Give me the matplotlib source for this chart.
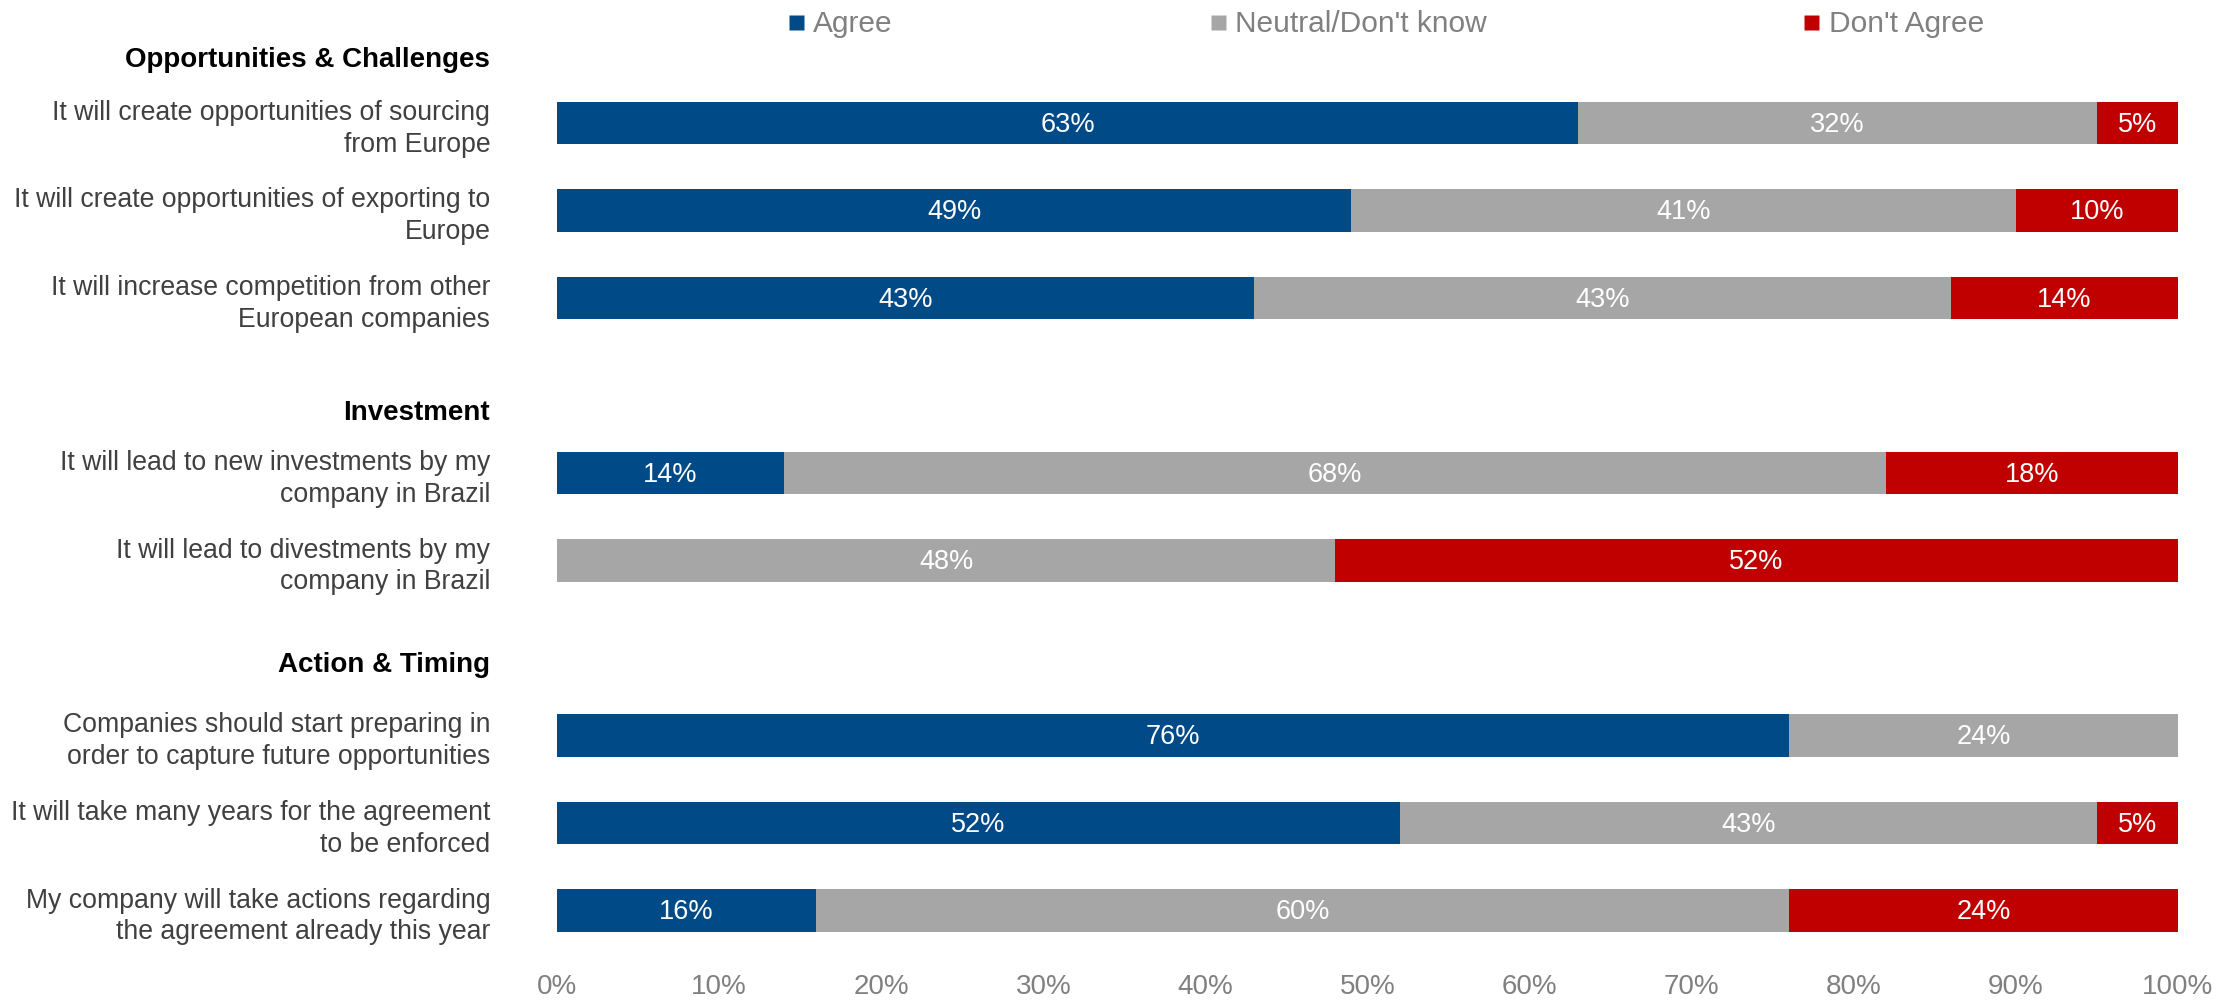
import matplotlib
matplotlib.use("Agg")
import matplotlib.pyplot as plt
from matplotlib.lines import Line2D
from matplotlib.ticker import FuncFormatter

plt.rcParams["font.family"] = ["Liberation Sans", "DejaVu Sans"]

# survey statements, grouped by theme
statements = [
    "It will create opportunities of sourcing\nfrom Europe",
    "It will create opportunities of exporting to\nEurope",
    "It will increase competition from other\nEuropean companies",
    "It will lead to new investments by my\ncompany in Brazil",
    "It will lead to divestments by my\ncompany in Brazil",
    "Companies should start preparing in\norder to capture future opportunities",
    "It will take many years for the agreement\nto be enforced",
    "My company will take actions regarding\nthe agreement already this year",
]
agree   = [63, 49, 43, 14, 0, 76, 52, 16]
neutral = [32, 41, 43, 68, 48, 24, 43, 60]
disagree = [5, 10, 14, 18, 52, 0, 5, 24]

groups = ["Opportunities & Challenges", "Investment", "Action & Timing"]
series_names = ["Agree", "Neutral/Don't know", "Don't Agree"]
series_colors = ["#004A87", "#A6A6A6", "#C00000"]

# row slots (one unit per bar, blank slots between groups)
row_pos = [0, 1, 2, 4, 5, 7, 8, 9]
group_pos = [-0.72, 3.31, 6.20]

fig = plt.figure(figsize=(22.35, 10.0), dpi=100)
ax = fig.add_axes([557 / 2235, 1 - 963 / 1000, 1621 / 2235, 945 / 1000])

bar_h = 0.49
left = [0] * len(row_pos)
for vals, color in zip([agree, neutral, disagree], series_colors):
    ax.barh(row_pos, vals, height=bar_h, left=left, color=color,
            edgecolor="none")
    for y, l, v in zip(row_pos, left, vals):
        if v > 0:
            ax.text(l + v / 2, y + 0.02, f"{v}%", ha="center", va="center",
                    color="white", fontsize=19.5)
    left = [a + b for a, b in zip(left, vals)]

ax.set_xlim(0, 100)
ax.set_ylim(9.6, -1.2)
ax.set_xticks(range(0, 101, 10))
ax.xaxis.set_major_formatter(FuncFormatter(lambda v, _: f"{v:.0f}%"))
ax.tick_params(axis="x", length=0, pad=8, labelsize=20, labelcolor="#808080")

ax.set_yticks(row_pos)
ax.set_yticklabels(statements)
ax.tick_params(axis="y", length=0, pad=48, labelsize=19.2, labelcolor="#404040")
for t in ax.get_yticklabels():
    t.set_linespacing(1.28)
    t.set_horizontalalignment("right")

for name, y in zip(groups, group_pos):
    ax.text(-67 / 1621, y, name, transform=ax.get_yaxis_transform(),
            ha="right", va="center", fontsize=20, fontweight="bold",
            color="black")

for s in ax.spines.values():
    s.set_visible(False)

handles = [Line2D([0], [0], marker="s", linestyle="none", markersize=10.8,
                  markerfacecolor=c, markeredgecolor="none", label=n)
           for n, c in zip(series_names, series_colors)]
leg = fig.legend(handles=handles, loc="center left",
                 bbox_to_anchor=(773 / 2235, 1 - 24 / 1000), ncol=3,
                 frameon=False, fontsize=21.5, borderpad=0,
                 handlelength=0.55, handletextpad=0.3, columnspacing=10.6)
for t in leg.get_texts():
    t.set_color("#808080")

fig.savefig("out.png", dpi=100)
